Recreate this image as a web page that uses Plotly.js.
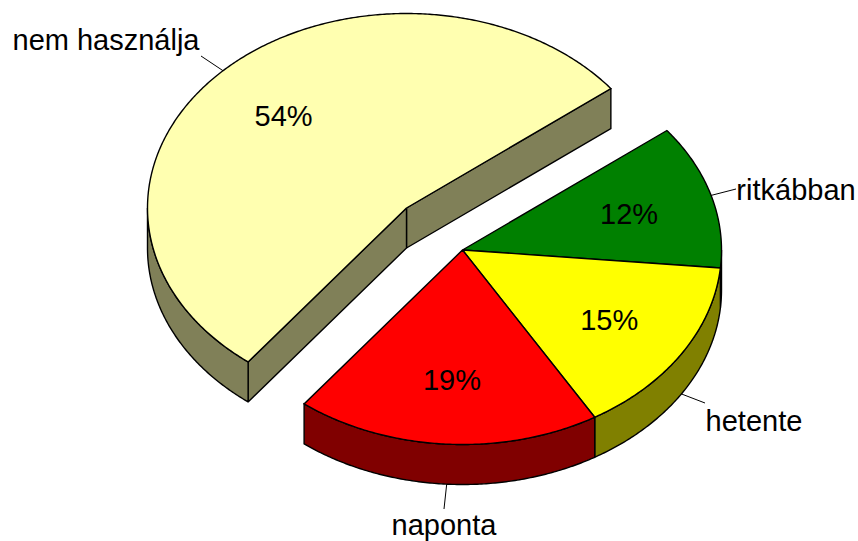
<!DOCTYPE html>
<html><head><meta charset="utf-8">
<script src="https://cdn.plot.ly/plotly-3.0.1.min.js"></script>
<style>html,body{margin:0;padding:0;background:#fff}#c{width:858px;height:541px}</style>
</head><body><div id="c"></div>
<script>
// Data
const categories = ['ritkábban','hetente','naponta','nem használja'];
const shares = [12,15,19,54];
const topColors = ['#008000','#FFFF00','#FF0000','#FFFFB0'];
const sideColors = ['#004000','#808000','#800000','#808058'];
const labelX = [796,754,444,106];
const labelY = [193,424,528,43];

// Pie geometry in picture units
const RX=259, RY=194.5, DEPTH=40, START=-37.9, LABEL_R=0.67, FS=29;
const centers=[[462.5,250],[462.5,250],[462.5,250],[406.5,208]];
const rad=d=>d*Math.PI/180;
const pt=(c,a,d=0)=>[c[0]+RX*Math.cos(rad(a)),c[1]+RY*Math.sin(rad(a))+d];
const arc=(c,a0,a1,d=0)=>{const n=Math.max(2,Math.ceil(Math.abs(a1-a0)*2));
  const out=[];for(let i=0;i<=n;i++)out.push(pt(c,a0+(a1-a0)*i/n,d));return out;};
const poly=(pts,fill)=>({type:'scatter',mode:'lines',x:pts.map(p=>p[0]),y:pts.map(p=>p[1]),
  fill:'toself',fillcolor:fill,line:{color:'#000',width:1.4,simplify:false},hoverinfo:'skip',showlegend:false});

let a=START; const slices=shares.map((s,i)=>{const a0=a;a+=s*3.6;return {a0,a1:a,c:centers[i],i};});
const sidesOf=s=>{const out=[];const {a0,a1,c,i}=s;
  // outer wall: the part of the rim facing the viewer (0..180 deg)
  const lo=Math.max(a0,0), hi=Math.min(a1,180);
  if(hi>lo){const t=arc(c,lo,hi), b=arc(c,hi,lo,DEPTH);out.push(poly(t.concat(b,[t[0]]),sideColors[i]));}
  return out;};
const traces=[];
// Large detached slice: walls first
const big=slices[3];
[big.a1,big.a0].forEach(an=>{const p=pt(big.c,an);const c=big.c;
  traces.push(poly([c,p,[p[0],p[1]+DEPTH],[c[0],c[1]+DEPTH],c],sideColors[3]));});
sidesOf(big).forEach(t=>traces.push(t));
traces.push(poly([big.c].concat(arc(big.c,big.a0,big.a1),[big.c]),topColors[3]));
// Remaining slices
slices.slice(0,3).forEach(s=>sidesOf(s).forEach(t=>traces.push(t)));
slices.slice(0,3).forEach(s=>traces.push(poly([s.c].concat(arc(s.c,s.a0,s.a1),[s.c]),topColors[s.i])));

// Leader lines, from the rim at each slice's mid angle to its label
const ends=[[736,189],[705,403],[444,509],[201,56]];
slices.forEach((s,i)=>{const m=(s.a0+s.a1)/2;
  const onFront=Math.sin(rad(m))>0;
  const p=pt(s.c,m,onFront?DEPTH:0);
  traces.push({type:'scatter',mode:'lines',x:[p[0],ends[i][0]],y:[p[1],ends[i][1]],
    line:{color:'#000',width:1},hoverinfo:'skip',showlegend:false});});

// Percent labels
const mids=slices.map(s=>{const m=(s.a0+s.a1)/2;return [s.c[0]+LABEL_R*RX*Math.cos(rad(m)),s.c[1]+LABEL_R*RY*Math.sin(rad(m))+3];});
traces.push({type:'scatter',mode:'text',x:mids.map(p=>p[0]),y:mids.map(p=>p[1]),
  text:shares.map(s=>s+'%'),textposition:'middle center',
  textfont:{family:'"Liberation Sans",Arial,sans-serif',size:FS,color:'#000'},hoverinfo:'skip',showlegend:false});
// Category labels
traces.push({type:'scatter',mode:'text',x:labelX,y:labelY,text:categories,textposition:'middle center',cliponaxis:false,
  textfont:{family:'"Liberation Sans",Arial,sans-serif',size:FS,color:'#000'},hoverinfo:'skip',showlegend:false});

const hidden={visible:false,fixedrange:true};
Plotly.newPlot('c',traces,{
  width:858,height:541,margin:{l:0,r:0,t:0,b:0,pad:0},
  paper_bgcolor:'#fff',plot_bgcolor:'#fff',showlegend:false,
  xaxis:{...hidden,range:[0,858]},yaxis:{...hidden,range:[541,0]}
},{staticPlot:true,displayModeBar:false});
</script></body></html>
